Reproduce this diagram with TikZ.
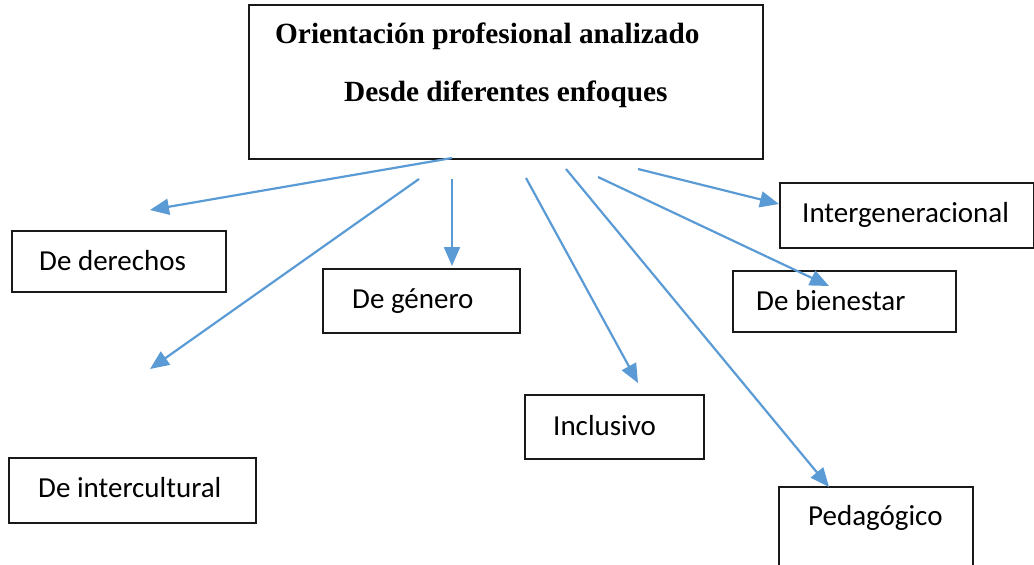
\documentclass[tikz,border=0pt]{standalone}
\usepackage{fontspec}
\setmainfont{Carlito}
\newfontfamily\titlefont{Liberation Serif}
\usetikzlibrary{arrows.meta}
\definecolor{arrowblue}{HTML}{5B9BD5}
\begin{document}
\begin{tikzpicture}[x=1pt,y=-1pt,
  box/.style={draw=black!90, line width=1.5pt, inner sep=0pt},
  lbl/.style={anchor=base west, inner sep=0pt, font=\fontsize{29}{34}\selectfont},
  ttl/.style={anchor=base west, inner sep=0pt, font=\titlefont\bfseries\fontsize{29.3}{34}\selectfont},
  conn/.style={draw=arrowblue, line width=2.2pt, -{Triangle[length=19pt,width=16pt]}}]
\useasboundingbox (0,0) rectangle (1034,565);
% main box
\node[box, minimum width=514pt, minimum height=154pt] (main) at (506,82) {};
\node[ttl] (t1) at (275,43) {Orientación profesional analizado};
\node[ttl] (t2) at (344,101) {Desde diferentes enfoques};
% boxes
\node[box, minimum width=214pt, minimum height=61pt] (der) at (119,261.5) {};
\node[lbl] (dert) at (39,270) {De derechos};
\node[box, minimum width=197pt, minimum height=64pt] (gen) at (421.5,301) {};
\node[lbl] (gent) at (352,308) {De género};
\node[box, minimum width=247pt, minimum height=65pt] (int) at (132.5,490.5) {};
\node[lbl] (intt) at (38,497) {De intercultural};
\node[box, minimum width=179pt, minimum height=64pt] (inc) at (614.5,427) {};
\node[lbl] (inct) at (553,435) {Inclusivo};
\node[box, minimum width=194pt, minimum height=83pt] (ped) at (876,528.5) {};
\node[lbl] (pedt) at (808,525) {Pedagógico};
\node[box, minimum width=223pt, minimum height=61pt] (bie) at (844.5,301.5) {};
\node[lbl] (biet) at (756,310) {De bienestar};
\node[box, minimum width=254pt, minimum height=65pt] (ige) at (907,215.5) {};
\node[lbl] (iget) at (802,222) {Intergeneracional};
% connector ends
\coordinate (s1) at (452,158);  \coordinate (e1) at (150,210);
\coordinate (s2) at (419,179);  \coordinate (e2) at (150,369);
\coordinate (s3) at (452,179);  \coordinate (e3) at (452,266);
\coordinate (s4) at (526,178);  \coordinate (e4) at (638,383);
\coordinate (s5) at (566,169);  \coordinate (e5) at (829,487);
\coordinate (s6) at (598,177);  \coordinate (e6) at (829,286);
\coordinate (s7) at (638,169);  \coordinate (e7) at (779,204);
\draw[conn] (s1) -- (e1);
\draw[conn] (s2) -- (e2);
\draw[conn] (s3) -- (e3);
\draw[conn] (s4) -- (e4);
\draw[conn] (s5) -- (e5);
\draw[conn] (s6) -- (e6);
\draw[conn] (s7) -- (e7);
\end{tikzpicture}
\end{document}
